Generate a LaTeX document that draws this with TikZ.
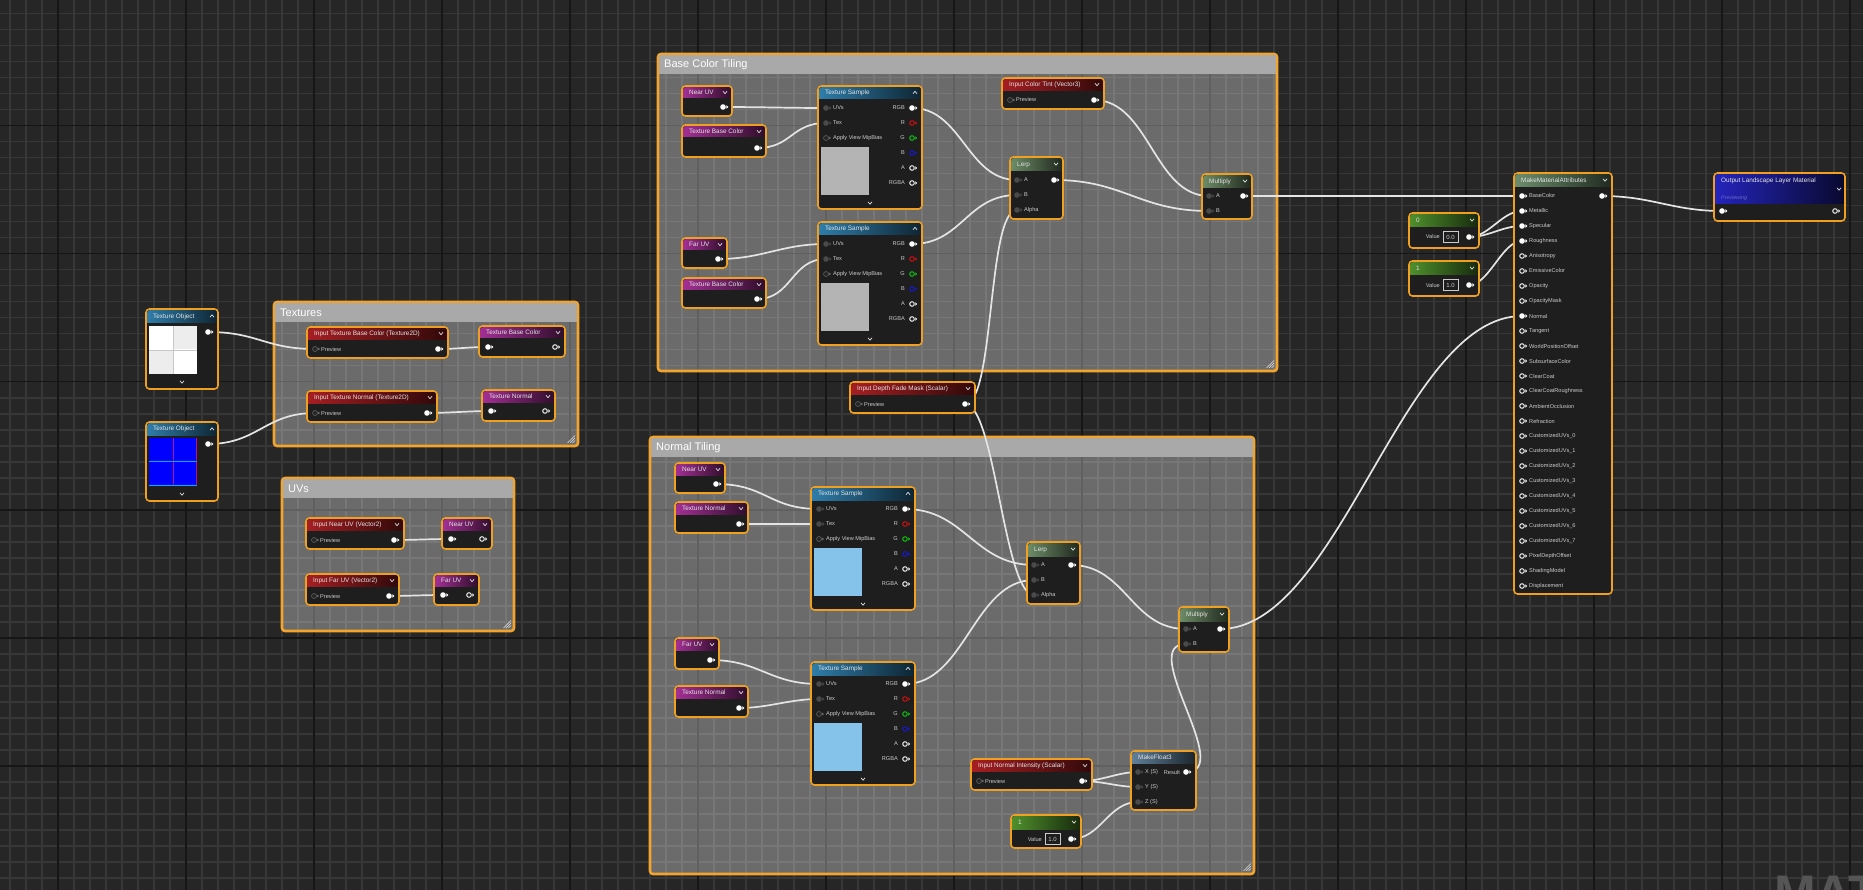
\documentclass[tikz,border=0pt]{standalone}
\usepackage{fontspec}
\setmainfont{Liberation Sans}
\usetikzlibrary{calc}
\pgfdeclarelayer{bglayer}
\pgfdeclarelayer{cmtlayer}
\pgfdeclarelayer{wirelayer}
\pgfsetlayers{bglayer,cmtlayer,wirelayer,main}

\definecolor{bgcol}{HTML}{262626}
\definecolor{minorcol}{HTML}{373737}
\definecolor{majorcol}{HTML}{161616}
\definecolor{nodebg}{HTML}{1D1E1D}
\definecolor{nodeborder}{HTML}{EFA020}
\definecolor{cmtborder}{HTML}{F2A42C}
\definecolor{cmtbar}{HTML}{A9A9A9}
\definecolor{wirecol}{HTML}{E4E4E4}
\definecolor{titletext}{HTML}{E4E4E4}
\definecolor{labeltext}{HTML}{CCCCCC}
\definecolor{hdrblue}{HTML}{2F7DAA}
\definecolor{hdrmag}{HTML}{A22F93}
\definecolor{hdrred}{HTML}{A51E22}
\definecolor{hdrlerp}{HTML}{6C8B66}
\definecolor{hdrconst}{HTML}{4F8F2C}
\definecolor{hdrmma}{HTML}{6C8D6C}
\definecolor{hdrmf3}{HTML}{5F7F98}
\definecolor{hdrout}{HTML}{2424BC}
\definecolor{pingray}{HTML}{4A4A4A}
\definecolor{prevgray}{HTML}{B4B4B4}
\definecolor{prevblue}{HTML}{86C3EA}
\definecolor{pinred}{HTML}{E01010}
\definecolor{pingreen}{HTML}{10D010}
\definecolor{pinblue}{HTML}{1818E0}
\definecolor{wmcol}{HTML}{555555}
\definecolor{prevtext}{HTML}{6A6AC8}

\tikzset{
 uebody/.style={draw=nodeborder, line width=1.6pt, fill=nodebg, rounded corners=3.5pt, inner sep=0pt, outer sep=0pt},
 uetitle/.style={font=\fontsize{6.4}{7}\selectfont, text=titletext, inner sep=0pt},
 pinlabel/.style={font=\fontsize{5.6}{6}\selectfont, text=labeltext, inner sep=0pt},
 cmttitle/.style={font=\fontsize{11}{12}\selectfont, text=white, inner sep=0pt},
 commentbox/.style={draw=cmtborder, line width=2.6pt, fill=white, fill opacity=0.32, rounded corners=3pt, inner sep=0pt, outer sep=0pt},
 wire/.style={draw=wirecol, line width=1.7pt},
 chev/.style={draw=titletext, line width=0.7pt},
 minorgrid/.style={draw=minorcol, line width=1.6pt},
 majorgrid/.style={draw=majorcol, line width=1.6pt},
 pinw/.pic={\fill[white] (0,0) circle (2.8pt); \fill[white] (3.3,-1.9) -- (5.3,0) -- (3.3,1.9) -- cycle;},
 pinh/.pic={\draw[white, line width=0.9pt] (0,0) circle (2.3pt); \fill[white] (3.3,-1.7) -- (5.1,0) -- (3.3,1.7) -- cycle;},
 pinhr/.pic={\draw[pinred, line width=0.9pt] (0,0) circle (2.3pt); \fill[pinred] (3.3,-1.7) -- (5.1,0) -- (3.3,1.7) -- cycle;},
 pinhg/.pic={\draw[pingreen, line width=0.9pt] (0,0) circle (2.3pt); \fill[pingreen] (3.3,-1.7) -- (5.1,0) -- (3.3,1.7) -- cycle;},
 pinhb/.pic={\draw[pinblue, line width=0.9pt] (0,0) circle (2.3pt); \fill[pinblue] (3.3,-1.7) -- (5.1,0) -- (3.3,1.7) -- cycle;},
 ping/.pic={\fill[pingray] (0,0) circle (2.8pt); \fill[pingray] (3.3,-1.9) -- (5.3,0) -- (3.3,1.9) -- cycle;},
 pinb/.pic={\fill[black!85] (0,0) circle (2.5pt); \draw[black!60!white, line width=0.5pt] (0,0) circle (2.5pt); \fill[black!60!white] (3.2,-1.5) -- (4.8,0) -- (3.2,1.5) -- cycle;},
}

\newcommand{\chd}[2]{\draw[chev] (#1-2,#2-1.2) -- (#1,#2+1.2) -- (#1+2,#2-1.2);}
\newcommand{\chu}[2]{\draw[chev] (#1-2,#2+1.2) -- (#1,#2-1.2) -- (#1+2,#2+1.2);}
\newcommand{\plabel}[4]{\node[pinlabel, anchor=#3] (#1) at (#2) {#4};}

% name x y w h headerh color title
\newcommand{\uen}[8]{%
 \node[uebody, minimum width=#4pt, minimum height=#5pt, anchor=north west] (#1) at (#2,#3) {};
 \shade[left color=#7, right color=#7!30!black, rounded corners=2.5pt] (#2+1.2,#3+1.2) rectangle (#2+#4-1.2,#3+#6);
 \shade[left color=#7, right color=#7!30!black] (#2+1.2,#3+#6-3) rectangle (#2+#4-1.2,#3+#6);
 \node[uetitle, anchor=west] (#1-t) at (#2+7,#3+#6/2+0.5) {#8};
}

% input parameter: name x y w title
\newcommand{\inp}[5]{%
 \uen{#1}{#2}{#3}{#4}{31}{12.5}{hdrred}{#5}
 \chd{#2+#4-7}{#3+6.5}
 \coordinate (#1-i) at (#2+8,#3+22);
 \pic at (#1-i) {pinb};
 \plabel{#1-lp}{#2+14,#3+22}{west}{Preview}
 \coordinate (#1-o) at (#2+#4-10,#3+22);
 \pic at (#1-o) {pinw};
}

% named reroute declaration: name x y w title
\newcommand{\rdecl}[5]{%
 \uen{#1}{#2}{#3}{#4}{31}{12}{hdrmag}{#5}
 \chd{#2+#4-7}{#3+6.5}
 \coordinate (#1-i) at (#2+9,#3+21);
 \pic at (#1-i) {pinw};
 \pic at (#2+#4-10,#3+21) {pinh};
}

% named reroute usage: name x y w h title
\newcommand{\ruse}[6]{%
 \uen{#1}{#2}{#3}{#4}{#5}{12}{hdrmag}{#6}
 \chd{#2+#4-7}{#3+6.5}
 \coordinate (#1-o) at (#2+#4-9,#3+#5-9);
 \pic at (#1-o) {pinw};
}

% texture sample: name x y previewcolor
\newcommand{\tsamp}[4]{%
 \uen{#1}{#2}{#3}{104}{123}{13}{hdrblue}{Texture Sample}
 \chu{#2+97}{#3+6.5}
 \coordinate (#1-uv) at (#2+8,#3+22);
 \coordinate (#1-tex) at (#2+8,#3+37);
 \coordinate (#1-rgb) at (#2+94,#3+22);
 \pic at (#1-uv) {ping};
 \pic at (#1-tex) {ping};
 \pic at (#2+8,#3+52) {pinb};
 \plabel{#1-l1}{#2+15,#3+22}{west}{UVs}
 \plabel{#1-l2}{#2+15,#3+37}{west}{Tex}
 \plabel{#1-l3}{#2+15,#3+52}{west}{Apply View MipBias}
 \plabel{#1-r1}{#2+87,#3+22}{east}{RGB}
 \plabel{#1-r2}{#2+87,#3+37}{east}{R}
 \plabel{#1-r3}{#2+87,#3+52}{east}{G}
 \plabel{#1-r4}{#2+87,#3+67}{east}{B}
 \plabel{#1-r5}{#2+87,#3+82}{east}{A}
 \plabel{#1-r6}{#2+87,#3+97}{east}{RGBA}
 \pic at (#1-rgb) {pinw};
 \pic at (#2+94,#3+37) {pinhr};
 \pic at (#2+94,#3+52) {pinhg};
 \pic at (#2+94,#3+67) {pinhb};
 \pic at (#2+94,#3+82) {pinh};
 \pic at (#2+94,#3+97) {pinh};
 \fill[#4] (#2+3,#3+61) rectangle (#2+51,#3+109);
 \chd{#2+52}{#3+117}
}

% lerp: name x y
\newcommand{\lerpnode}[3]{%
 \uen{#1}{#2}{#3}{53}{62}{14}{hdrlerp}{Lerp}
 \chd{#2+46}{#3+7}
 \coordinate (#1-a) at (#2+7,#3+23);
 \coordinate (#1-b) at (#2+7,#3+38);
 \coordinate (#1-al) at (#2+7,#3+53);
 \coordinate (#1-o) at (#2+44,#3+23);
 \pic at (#1-a) {ping}; \pic at (#1-b) {ping}; \pic at (#1-al) {ping};
 \pic at (#1-o) {pinw};
 \plabel{#1-la}{#2+14,#3+23}{west}{A}
 \plabel{#1-lb}{#2+14,#3+38}{west}{B}
 \plabel{#1-lc}{#2+14,#3+53}{west}{Alpha}
}

% multiply: name x y
\newcommand{\multnode}[3]{%
 \uen{#1}{#2}{#3}{50}{45}{14}{hdrlerp}{Multiply}
 \chd{#2+43}{#3+7}
 \coordinate (#1-a) at (#2+7,#3+22);
 \coordinate (#1-b) at (#2+7,#3+37);
 \coordinate (#1-o) at (#2+41,#3+22);
 \pic at (#1-a) {ping}; \pic at (#1-b) {ping};
 \pic at (#1-o) {pinw};
 \plabel{#1-la}{#2+14,#3+22}{west}{A}
 \plabel{#1-lb}{#2+14,#3+37}{west}{B}
}

% constant: name x y h title value
\newcommand{\constnode}[6]{%
 \uen{#1}{#2}{#3}{70}{#4}{14}{hdrconst}{#5}
 \chd{#2+63}{#3+7}
 \plabel{#1-lv}{#2+31,#3+24}{east}{Value}
 \draw[labeltext, line width=0.6pt] (#2+34,#3+18.5) rectangle (#2+49,#3+29.5);
 \node[pinlabel, font=\fontsize{6}{7}\selectfont] (#1-v) at (#2+41.5,#3+24) {#6};
 \coordinate (#1-o) at (#2+60,#3+24);
 \pic at (#1-o) {pinw};
}

% comment box: name x y w h title
\newcommand{\cmtbox}[6]{%
 \node[commentbox, minimum width=#4pt, minimum height=#5pt, anchor=north west] (#1) at (#2,#3) {};
 \fill[cmtbar] (#2+1.4,#3+1.4) rectangle (#2+#4-1.4,#3+20);
 \node[cmttitle, anchor=west] (#1-t) at (#2+6,#3+11) {#6};
 \draw[white!80!gray, line width=0.5pt] (#2+#4-3,#3+#5-5.5) -- (#2+#4-5.5,#3+#5-3)
   (#2+#4-3,#3+#5-8) -- (#2+#4-8,#3+#5-3) (#2+#4-3,#3+#5-10.5) -- (#2+#4-10.5,#3+#5-3);
}

\newcommand{\wire}[3]{\draw[wire] (#1) .. controls +(#3,0) and +(-#3,0) .. (#2);}

\begin{document}
\begin{tikzpicture}[x=1pt,y=-1pt]
\useasboundingbox (0,0) rectangle (1863,890);

\begin{pgfonlayer}{bglayer}
 \fill[bgcol] (0,0) rectangle (1863,890);
 \foreach \i in {0,...,116} \draw[minorgrid] (10+16*\i,0) -- (10+16*\i,890);
 \foreach \j in {0,...,55} \draw[minorgrid] (0,13.7+16*\j) -- (1863,13.7+16*\j);
 \foreach \i in {0,...,14} \draw[majorgrid] (58+128*\i,0) -- (58+128*\i,890);
 \foreach \j in {0,...,5} \draw[majorgrid] (0,125.7+128*\j) -- (1863,125.7+128*\j);
 \begin{scope}
  \clip (0,0) rectangle (1863,890);
  \node[font=\fontsize{50}{50}\selectfont\bfseries, text=wmcol, anchor=north west, inner sep=0pt] (wm) at (1774,876) {MAT};
 \end{scope}
\end{pgfonlayer}

\begin{pgfonlayer}{cmtlayer}
 \cmtbox{cbct}{658}{54}{619}{317}{Base Color Tiling}
 \cmtbox{cnt}{650}{437}{604}{437}{Normal Tiling}
 \cmtbox{ctex}{274}{302}{304}{144}{Textures}
 \cmtbox{cuv}{282}{478}{232}{153}{UVs}
\end{pgfonlayer}

% ---------- Texture objects
\uen{to1}{146}{309}{72}{80}{14}{hdrblue}{Texture Object}
\chu{212}{316}
\fill[white] (149,326) rectangle (197,374);
\fill[black!7] (173.5,326) rectangle (197,349.5);
\fill[black!7] (149,350.5) rectangle (172.5,374);
\draw[black!22, line width=0.8pt] (173,326) -- (173,374) (149,350) -- (197,350);
\coordinate (to1-o) at (208,332);
\pic at (to1-o) {pinw};
\chd{182}{382}

\uen{to2}{146}{422}{72}{79}{13}{hdrblue}{Texture Object}
\chu{212}{429}
\fill[blue] (149,438) rectangle (197,486);
\draw[magenta!70!blue, line width=0.9pt] (173,438) -- (173,486) (196.4,438) -- (196.4,486);
\draw[cyan, line width=0.9pt] (149,461.5) -- (197,461.5) (149,485.4) -- (197,485.4);
\coordinate (to2-o) at (208,444);
\pic at (to2-o) {pinw};
\chd{182}{494}

% ---------- Textures / UVs groups
\inp{itbc}{307}{327}{141}{Input Texture Base Color (Texture2D)}
\rdecl{tbc0}{479}{326}{86}{Texture Base Color}
\inp{itn}{307}{391}{130}{Input Texture Normal (Texture2D)}
\rdecl{tn0}{482}{390}{73}{Texture Normal}
\inp{inuv}{306}{518}{98}{Input Near UV (Vector2)}
\rdecl{nuv0}{442}{518}{50}{Near UV}
\inp{ifuv}{306}{574}{93}{Input Far UV (Vector2)}
\rdecl{fuv0}{434}{574}{45}{Far UV}

% ---------- Base Color Tiling
\ruse{bnuv}{682}{86}{50}{30}{Near UV}
\ruse{btbc1}{682}{125}{84}{32}{Texture Base Color}
\ruse{bfuv}{682}{238}{45}{30}{Far UV}
\ruse{btbc2}{682}{278}{84}{30}{Texture Base Color}
\tsamp{bts1}{818}{86}{prevgray}
\tsamp{bts2}{818}{222}{prevgray}
\lerpnode{blerp}{1010}{157}
\inp{ctint}{1002}{78}{102}{Input Color Tint (Vector3)}
\multnode{bmul}{1202}{174}

\inp{dfm}{850}{382}{125}{Input Depth Fade Mask (Scalar)}

% ---------- Normal Tiling
\ruse{nnuv}{675}{463}{50}{30}{Near UV}
\ruse{ntn1}{675}{502}{73}{31}{Texture Normal}
\ruse{nfuv}{675}{638}{44}{31}{Far UV}
\ruse{ntn2}{675}{686}{73}{31}{Texture Normal}
\tsamp{nts1}{811}{487}{prevblue}
\tsamp{nts2}{811}{662}{prevblue}
\lerpnode{nlerp}{1027}{542}
\multnode{nmul}{1179}{607}
\inp{nint}{971}{759}{121}{Input Normal Intensity (Scalar)}
\constnode{nc1}{1011}{815}{33}{1}{1.0}

\uen{mf3}{1131}{751}{65}{59}{12}{hdrmf3}{MakeFloat3}
\coordinate (mf3-x) at (1138,772);
\coordinate (mf3-y) at (1138,787);
\coordinate (mf3-z) at (1138,802);
\coordinate (mf3-o) at (1186,772);
\pic at (mf3-x) {ping}; \pic at (mf3-y) {ping}; \pic at (mf3-z) {ping};
\pic at (mf3-o) {pinw};
\plabel{mf3-lx}{1145,772}{west}{X (S)}
\plabel{mf3-ly}{1145,787}{west}{Y (S)}
\plabel{mf3-lz}{1145,802}{west}{Z (S)}
\plabel{mf3-lr}{1180,772}{east}{Result}

% ---------- Right side
\constnode{c0}{1409}{213}{35}{0}{0.0}
\constnode{c1}{1409}{261}{35}{1}{1.0}

\uen{mma}{1514}{173}{98}{421}{14}{hdrmma}{MakeMaterialAttributes}
\chd{1605}{180}
\foreach \i/\lab in {0/BaseColor,1/Metallic,2/Specular,3/Roughness,4/Anisotropy,5/EmissiveColor,6/Opacity,7/OpacityMask,8/Normal,9/Tangent,10/WorldPositionOffset,11/SubsurfaceColor,12/ClearCoat,13/ClearCoatRoughness,14/AmbientOcclusion,15/Refraction,16/CustomizedUVs\_0,17/CustomizedUVs\_1,18/CustomizedUVs\_2,19/CustomizedUVs\_3,20/CustomizedUVs\_4,21/CustomizedUVs\_5,22/CustomizedUVs\_6,23/CustomizedUVs\_7,24/PixelDepthOffset,25/ShadingModel,26/Displacement}
 { \node[pinlabel, anchor=west] (mma-l\i) at (1529,196+15*\i) {\lab}; }
\foreach \i in {4,5,6,7,9,10,...,26} { \pic at (1522,196+15*\i) {pinh}; }
\coordinate (mma-base) at (1522,196);
\coordinate (mma-met) at (1522,211);
\coordinate (mma-spec) at (1522,226);
\coordinate (mma-rough) at (1522,241);
\coordinate (mma-norm) at (1522,316);
\coordinate (mma-o) at (1602,196);
\foreach \c in {mma-base,mma-met,mma-spec,mma-rough,mma-norm,mma-o} { \pic at (\c) {pinw}; }

\node[uebody, minimum width=131pt, minimum height=48pt, anchor=north west] (outn) at (1714,173) {};
\shade[left color=hdrout, right color=hdrout!25!black, rounded corners=2.5pt] (1715.2,174.2) rectangle (1843.8,204);
\shade[left color=hdrout, right color=hdrout!25!black] (1715.2,200) rectangle (1843.8,204);
\node[uetitle, anchor=west] (outn-t) at (1721,181) {Output Landscape Layer Material};
\node[pinlabel, font=\fontsize{5.3}{6}\selectfont\itshape, text=prevtext, anchor=west] (outn-p) at (1721,198.5) {Previewing};
\chd{1839}{189}
\coordinate (outn-i) at (1722,211);
\pic at (outn-i) {pinw};
\pic at (1835,211) {pinh};

% ---------- Wires
\begin{pgfonlayer}{wirelayer}
\wire{to1-o}{itbc-i}{50}
\wire{to2-o}{itn-i}{50}
\wire{itbc-o}{tbc0-i}{20}
\wire{itn-o}{tn0-i}{20}
\wire{inuv-o}{nuv0-i}{20}
\wire{ifuv-o}{fuv0-i}{20}
\wire{bnuv-o}{bts1-uv}{40}
\wire{btbc1-o}{bts1-tex}{35}
\wire{bfuv-o}{bts2-uv}{45}
\wire{btbc2-o}{bts2-tex}{35}
\wire{bts1-rgb}{blerp-a}{50}
\wire{bts2-rgb}{blerp-b}{50}
\wire{dfm-o}{blerp-al}{30}
\wire{dfm-o}{nlerp-al}{30}
\wire{ctint-o}{bmul-a}{55}
\wire{blerp-o}{bmul-b}{70}
\wire{bmul-o}{mma-base}{100}
\wire{nnuv-o}{nts1-uv}{50}
\wire{ntn1-o}{nts1-tex}{30}
\wire{nfuv-o}{nts2-uv}{50}
\wire{ntn2-o}{nts2-tex}{30}
\wire{nts1-rgb}{nlerp-a}{60}
\wire{nts2-rgb}{nlerp-b}{60}
\wire{nlerp-o}{nmul-a}{55}
\wire{mf3-o}{nmul-b}{50}
\wire{nint-o}{mf3-x}{20}
\wire{nint-o}{mf3-y}{20}
\wire{nc1-o}{mf3-z}{30}
\wire{nmul-o}{mma-norm}{120}
\wire{c0-o}{mma-met}{20}
\wire{c0-o}{mma-spec}{20}
\wire{c1-o}{mma-rough}{20}
\wire{mma-o}{outn-i}{50}
\end{pgfonlayer}
\end{tikzpicture}
\end{document}
